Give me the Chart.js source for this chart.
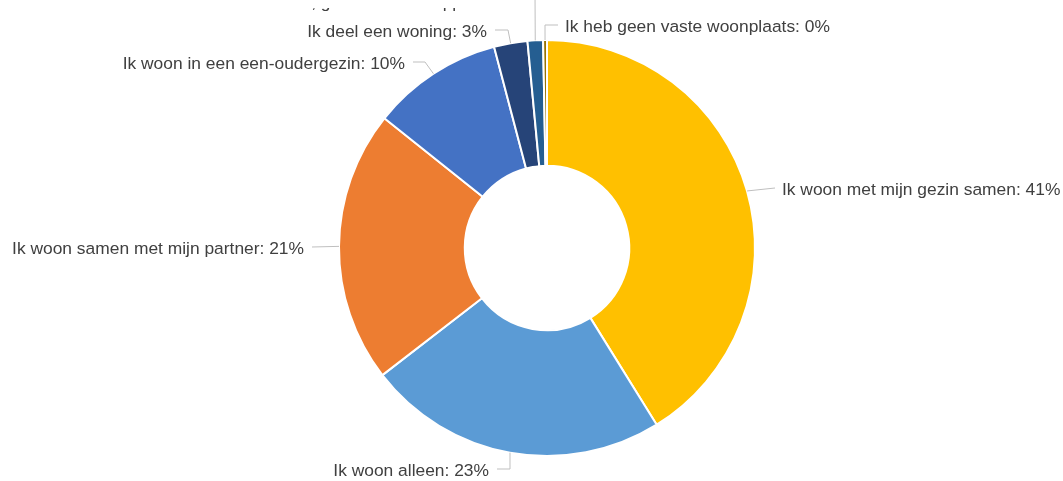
<!DOCTYPE html>
<html>
<head>
<meta charset="utf-8">
<script src="https://cdn.jsdelivr.net/npm/chart.js@4/dist/chart.umd.min.js"></script>
<style>
  html, body { margin: 0; padding: 0; background: #ffffff; }
  #wrap { width: 1063px; height: 481px; position: relative; }
</style>
</head>
<body>
<div id="wrap"><canvas id="donut"></canvas></div>
<script>
Chart.defaults.font.family = "Liberation Sans, Arial, sans-serif";
Chart.defaults.font.size = 16;

// data (clockwise from the top)
const categories = [
    "Ik woon met mijn gezin samen",
    "Ik woon alleen",
    "Ik woon samen met mijn partner",
    "Ik woon in een een-oudergezin",
    "Ik deel een woning",
    "Anders, geen vaste slaapplek",
    "Ik heb geen vaste woonplaats"
];
const values = [41.2, 23.4, 21.2, 10.2, 2.6, 1.2, 0.3];
const percentLabels = ["41%", "23%", "21%", "10%", "3%", "1%", "0%"];
const colors = ["#FFC000", "#5B9BD5", "#ED7D31", "#4472C4", "#264478", "#255E91", "#997300"];

// label layout, relative to the centre: elbow, end of leader, text side
const labelLayout = [
    {elbow: null,       end: [228, -60],  side: "left"},
    {elbow: [-37, 221], end: [-50, 221],  side: "right"},
    {elbow: null,       end: [-235, -1],  side: "right"},
    {elbow: [-122, -186], end: [-134, -186], side: "right"},
    {elbow: [-39, -218], end: [-52, -218], side: "right"},
    {elbow: [-12, -256], end: [-20, -256], side: "right", clipTop: 8, textY: 3},
    {elbow: [-2, -223], end: [11, -223],  side: "left"}
];

const leaderLabels = {
    id: "leaderLabels",
    afterDatasetsDraw(chart){
        const ctx = chart.ctx;
        const meta = chart.getDatasetMeta(0);
        meta.data.forEach((arc, i) => {
            const p = arc.getProps(["x", "y", "startAngle", "endAngle", "outerRadius"], true);
            const mid = (p.startAngle + p.endAngle) / 2;
            const sx = p.x + Math.cos(mid) * p.outerRadius;
            const sy = p.y + Math.sin(mid) * p.outerRadius;
            const lay = labelLayout[i];
            const ex = p.x + lay.end[0];
            const ey = p.y + lay.end[1];

            ctx.save();
            ctx.strokeStyle = "#BFBFBF";
            ctx.lineWidth = 1;
            ctx.beginPath();
            ctx.moveTo(sx, sy);
            if(lay.elbow){
                ctx.lineTo(p.x + lay.elbow[0], p.y + lay.elbow[1]);
            }
            ctx.lineTo(ex, ey);
            ctx.stroke();
            ctx.restore();

            ctx.save();
            let ty = ey + 2;
            if(lay.clipTop){
                // label sits mostly above the canvas edge, only its foot shows
                ctx.beginPath();
                ctx.rect(0, lay.clipTop, chart.width, chart.height - lay.clipTop);
                ctx.clip();
                ty = lay.textY;
            }
            ctx.fillStyle = "#404040";
            ctx.font = "17.4px 'Liberation Sans', Arial, sans-serif";
            ctx.textBaseline = "middle";
            const txt = categories[i] + ": " + percentLabels[i];
            if(lay.side == "left"){
                ctx.textAlign = "left";
                ctx.fillText(txt, ex + 7, ty);
            } else {
                ctx.textAlign = "right";
                ctx.fillText(txt, ex - 8, ty);
            }
            ctx.restore();
        });
    }
};

new Chart(document.getElementById("donut"), {
    type: "doughnut",
    data: {
        labels: categories,
        datasets: [
            {
                data: values,
                backgroundColor: colors,
                borderColor: "#ffffff",
                borderWidth: 2
            }
        ]
    },
    options: {
        responsive: true,
        maintainAspectRatio: false,
        animation: false,
        radius: 208,
        cutout: 85,
        layout: {
            padding: {top: 32, bottom: 17, left: 31, right: 0}
        },
        plugins: {
            legend: {display: false},
            tooltip: {enabled: false}
        }
    },
    plugins: [leaderLabels]
});
</script>
</body>
</html>
